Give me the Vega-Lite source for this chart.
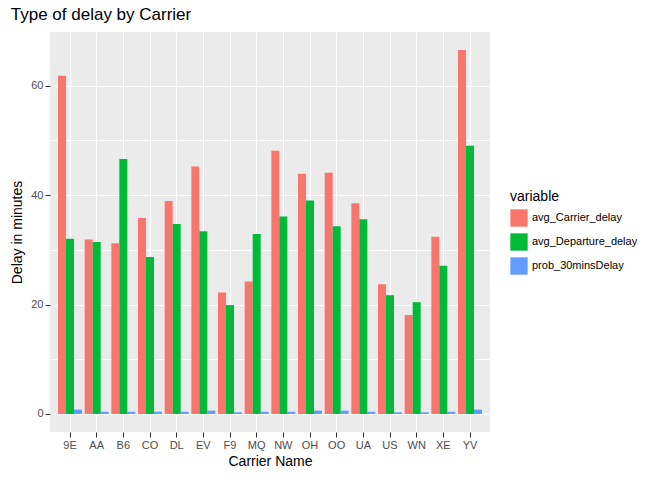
{
"$schema":"https://vega.github.io/schema/vega-lite/v6.json",
"autosize":"none","width":440,"height":400,
"padding":{"left":50,"top":32,"right":182,"bottom":48},
"background":"white",
"title":{"text":"Type of delay by Carrier","anchor":"start","offset":8,"fontSize":17,"fontWeight":"normal","font":"Liberation Sans","color":"black"},
"config":{"view":{"fill":"#EBEBEB","stroke":null},"font":"Liberation Sans"},
"data":{"values":[
{"c":"9E","v":"avg_Carrier_delay","d":61.8},{"c":"9E","v":"avg_Departure_delay","d":32.0},{"c":"9E","v":"prob_30minsDelay","d":0.8},
{"c":"AA","v":"avg_Carrier_delay","d":31.9},{"c":"AA","v":"avg_Departure_delay","d":31.4},{"c":"AA","v":"prob_30minsDelay","d":0.4},
{"c":"B6","v":"avg_Carrier_delay","d":31.2},{"c":"B6","v":"avg_Departure_delay","d":46.6},{"c":"B6","v":"prob_30minsDelay","d":0.4},
{"c":"CO","v":"avg_Carrier_delay","d":35.8},{"c":"CO","v":"avg_Departure_delay","d":28.7},{"c":"CO","v":"prob_30minsDelay","d":0.4},
{"c":"DL","v":"avg_Carrier_delay","d":38.9},{"c":"DL","v":"avg_Departure_delay","d":34.7},{"c":"DL","v":"prob_30minsDelay","d":0.4},
{"c":"EV","v":"avg_Carrier_delay","d":45.2},{"c":"EV","v":"avg_Departure_delay","d":33.4},{"c":"EV","v":"prob_30minsDelay","d":0.6},
{"c":"F9","v":"avg_Carrier_delay","d":22.2},{"c":"F9","v":"avg_Departure_delay","d":19.9},{"c":"F9","v":"prob_30minsDelay","d":0.3},
{"c":"MQ","v":"avg_Carrier_delay","d":24.2},{"c":"MQ","v":"avg_Departure_delay","d":32.9},{"c":"MQ","v":"prob_30minsDelay","d":0.4},
{"c":"NW","v":"avg_Carrier_delay","d":48.1},{"c":"NW","v":"avg_Departure_delay","d":36.1},{"c":"NW","v":"prob_30minsDelay","d":0.4},
{"c":"OH","v":"avg_Carrier_delay","d":43.9},{"c":"OH","v":"avg_Departure_delay","d":39.0},{"c":"OH","v":"prob_30minsDelay","d":0.6},
{"c":"OO","v":"avg_Carrier_delay","d":44.1},{"c":"OO","v":"avg_Departure_delay","d":34.3},{"c":"OO","v":"prob_30minsDelay","d":0.6},
{"c":"UA","v":"avg_Carrier_delay","d":38.5},{"c":"UA","v":"avg_Departure_delay","d":35.6},{"c":"UA","v":"prob_30minsDelay","d":0.4},
{"c":"US","v":"avg_Carrier_delay","d":23.7},{"c":"US","v":"avg_Departure_delay","d":21.7},{"c":"US","v":"prob_30minsDelay","d":0.3},
{"c":"WN","v":"avg_Carrier_delay","d":18.1},{"c":"WN","v":"avg_Departure_delay","d":20.4},{"c":"WN","v":"prob_30minsDelay","d":0.3},
{"c":"XE","v":"avg_Carrier_delay","d":32.4},{"c":"XE","v":"avg_Departure_delay","d":27.1},{"c":"XE","v":"prob_30minsDelay","d":0.4},
{"c":"YV","v":"avg_Carrier_delay","d":66.5},{"c":"YV","v":"avg_Departure_delay","d":49.0},{"c":"YV","v":"prob_30minsDelay","d":0.8}
]},
"mark":{"type":"bar"},
"encoding":{
"x":{"field":"c","type":"nominal","title":"Carrier Name","scale":{"paddingInner":0.1,"paddingOuter":0.3},
 "axis":{"labelAngle":0,"labelColor":"#4D4D4D","labelFontSize":11,"titleFontSize":14,"titleFontWeight":"normal","titleColor":"black","domain":false,"tickColor":"#333333","grid":true,"gridColor":"white","titlePadding":4}},
"xOffset":{"field":"v","type":"nominal","scale":{"paddingInner":0}},
"y":{"field":"d","type":"quantitative","title":"Delay in minutes","scale":{"domain":[-3.3,69.8],"nice":false,"zero":false},
 "axis":{"values":[0,10,20,30,40,50,60],"labelExpr":"datum.value % 20 == 0 ? datum.label : ''","tickOpacity":{"expr":"datum.value % 20 == 0 ? 1 : 0"},"labelColor":"#4D4D4D","labelFontSize":11,"titleFontSize":14,"titleFontWeight":"normal","titleColor":"black","domain":false,"tickColor":"#333333","gridColor":"white","gridWidth":1.2,"titlePadding":6}},
"color":{"field":"v","type":"nominal","title":"variable","scale":{"range":["#F8766D","#00BA38","#619CFF"]},
 "legend":{"orient":"none","legendX":460,"legendY":158,"symbolType":"square","symbolSize":300,"symbolStrokeWidth":0,"titleFontSize":14,"titleFontWeight":"normal","titleColor":"black","labelFontSize":11,"labelColor":"black","padding":0,"rowPadding":6}}
}
}
